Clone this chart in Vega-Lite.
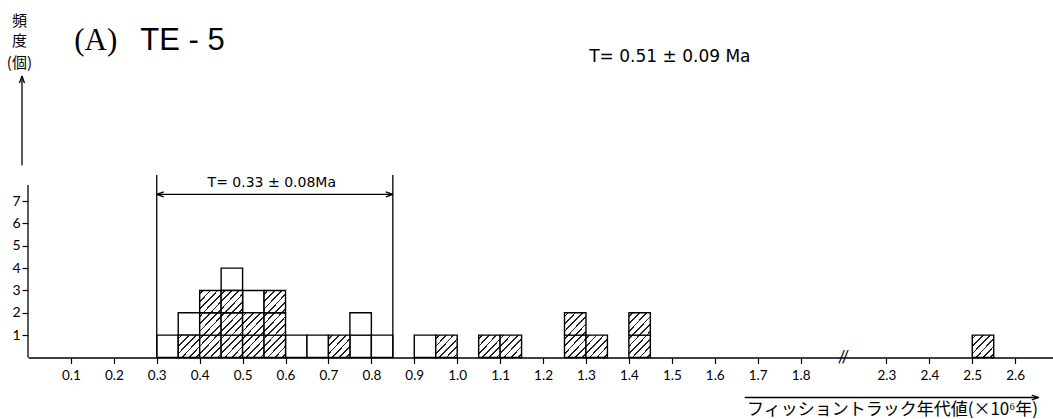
{
  "$schema": "https://vega.github.io/schema/vega-lite/v6.json",
  "width": 1025,
  "height": 357.5,
  "autosize": {"type": "none"},
  "padding": {"left": 28, "top": 0, "right": 0, "bottom": 61.5},
  "background": "white",
  "config": {"view": {"stroke": null}, "font": "Lato"},
  "datasets": {
    "boxes": [
      {"lo": 0.30, "hi": 0.35, "bottom": 0, "top": 1, "kind": "w"},
      {"lo": 0.35, "hi": 0.40, "bottom": 0, "top": 1, "kind": "h"},
      {"lo": 0.35, "hi": 0.40, "bottom": 1, "top": 2, "kind": "w"},
      {"lo": 0.40, "hi": 0.45, "bottom": 0, "top": 1, "kind": "h"},
      {"lo": 0.40, "hi": 0.45, "bottom": 1, "top": 2, "kind": "h"},
      {"lo": 0.40, "hi": 0.45, "bottom": 2, "top": 3, "kind": "h"},
      {"lo": 0.45, "hi": 0.50, "bottom": 0, "top": 1, "kind": "h"},
      {"lo": 0.45, "hi": 0.50, "bottom": 1, "top": 2, "kind": "h"},
      {"lo": 0.45, "hi": 0.50, "bottom": 2, "top": 3, "kind": "h"},
      {"lo": 0.45, "hi": 0.50, "bottom": 3, "top": 4, "kind": "w"},
      {"lo": 0.50, "hi": 0.55, "bottom": 0, "top": 1, "kind": "h"},
      {"lo": 0.50, "hi": 0.55, "bottom": 1, "top": 2, "kind": "h"},
      {"lo": 0.50, "hi": 0.55, "bottom": 2, "top": 3, "kind": "w"},
      {"lo": 0.55, "hi": 0.60, "bottom": 0, "top": 1, "kind": "h"},
      {"lo": 0.55, "hi": 0.60, "bottom": 1, "top": 2, "kind": "h"},
      {"lo": 0.55, "hi": 0.60, "bottom": 2, "top": 3, "kind": "h"},
      {"lo": 0.60, "hi": 0.65, "bottom": 0, "top": 1, "kind": "w"},
      {"lo": 0.65, "hi": 0.70, "bottom": 0, "top": 1, "kind": "w"},
      {"lo": 0.70, "hi": 0.75, "bottom": 0, "top": 1, "kind": "h"},
      {"lo": 0.75, "hi": 0.80, "bottom": 0, "top": 1, "kind": "w"},
      {"lo": 0.75, "hi": 0.80, "bottom": 1, "top": 2, "kind": "w"},
      {"lo": 0.80, "hi": 0.85, "bottom": 0, "top": 1, "kind": "w"},
      {"lo": 0.90, "hi": 0.95, "bottom": 0, "top": 1, "kind": "w"},
      {"lo": 0.95, "hi": 1.00, "bottom": 0, "top": 1, "kind": "h"},
      {"lo": 1.05, "hi": 1.10, "bottom": 0, "top": 1, "kind": "h"},
      {"lo": 1.10, "hi": 1.15, "bottom": 0, "top": 1, "kind": "h"},
      {"lo": 1.25, "hi": 1.30, "bottom": 0, "top": 1, "kind": "h"},
      {"lo": 1.25, "hi": 1.30, "bottom": 1, "top": 2, "kind": "h"},
      {"lo": 1.30, "hi": 1.35, "bottom": 0, "top": 1, "kind": "h"},
      {"lo": 1.40, "hi": 1.45, "bottom": 0, "top": 1, "kind": "h"},
      {"lo": 1.40, "hi": 1.45, "bottom": 1, "top": 2, "kind": "h"},
      {"lo": 2.50, "hi": 2.55, "bottom": 0, "top": 1, "kind": "h"}
    ],
    "lines": [
      {"x": 0, "x2": 0, "y": 0, "y2": 7.72},
      {"x": 0.3, "x2": 0.3, "y": 0, "y2": 8.17},
      {"x": 0.85, "x2": 0.85, "y": 0, "y2": 8.17},
      {"x": 0.3, "x2": 0.85, "y": 7.3, "y2": 7.3},
      {"x": -0.014, "x2": -0.014, "y": 8.6, "y2": 12.6},
      {"x": 1.67, "x2": 2.655, "y": -1.79, "y2": -1.79}
    ],
    "arrows": [
      {"x": 0.3, "y": 7.3, "dir": "left"},
      {"x": 0.85, "y": 7.3, "dir": "right"},
      {"x": 2.655, "y": -1.79, "dir": "right"},
      {"x": -0.014, "y": 12.6, "dir": "up"}
    ],
    "notes": [
      {"id": "ylab", "x": -0.02, "y": 15.05, "label": "頻"},
      {"id": "ylab", "x": -0.02, "y": 14.15, "label": "度"},
      {"id": "ylab", "x": -0.02, "y": 13.2, "label": "(個)"},
      {"id": "panel", "x": 0.158, "y": 14.16, "label": "(A)"},
      {"id": "sample", "x": 0.36, "y": 14.16, "label": "TE - 5"},
      {"id": "big", "x": 1.4955, "y": 13.44, "label": "T= 0.51 ± 0.09 Ma"},
      {"id": "small", "x": 0.568, "y": 7.82, "label": "T= 0.33 ± 0.08Ma"},
      {"id": "brk", "x": 2.05, "y": 0, "label": "//"}
    ]
  },
  "layer": [
    {
      "data": {"name": "boxes"},
      "transform": [{"filter": "datum.kind === 'w'"}],
      "mark": {"type": "rect", "fill": "white", "stroke": "black", "strokeWidth": 1.4},
      "encoding": {
        "x": {
          "field": "lo", "type": "quantitative",
          "scale": {"domain": [0, 1.8, 2.3, 2.69], "range": [0, 772.56, 858.4, 1025.8], "nice": false, "zero": false},
          "axis": {
            "values": [0.1, 0.2, 0.3, 0.4, 0.5, 0.6, 0.7, 0.8, 0.9, 1.0, 1.1, 1.2, 1.3, 1.4, 1.5, 1.6, 1.7, 1.8, 2.3, 2.4, 2.5, 2.6],
            "format": ".1f",
            "grid": false,
            "domain": true, "domainColor": "black", "domainWidth": 1.5,
            "ticks": true, "tickColor": "black", "tickSize": 6, "tickWidth": 1.2,
            "labelFontSize": 13.5, "labelColor": "black", "labelPadding": 5, "labelFont": "Lato",
            "title": "フィッショントラック年代値(×10⁶年)",
            "titleFont": "Noto Sans CJK JP", "titleFontSize": 17, "titleFontWeight": "normal", "titleColor": "black",
            "titleX": 864, "titleY": 52, "titleAlign": "center", "titleBaseline": "middle", "titleAngle": 0
          }
        },
        "x2": {"field": "hi"},
        "y": {
          "field": "bottom", "type": "quantitative",
          "scale": {"domain": [0, 16], "nice": false, "zero": false},
          "axis": {
            "values": [1, 2, 3, 4, 5, 6, 7],
            "grid": false, "domain": false,
            "ticks": true, "tickColor": "black", "tickSize": 6, "tickWidth": 1.2,
            "labelFontSize": 14, "labelColor": "black", "labelPadding": 2, "labelFont": "Lato",
            "title": null
          }
        },
        "y2": {"field": "top"}
      }
    },
    {
      "data": {"name": "boxes"},
      "transform": [{"filter": "datum.kind === 'h'"}],
      "mark": {
        "type": "rect", "stroke": "black", "strokeWidth": 1.4,
        "fill": {
          "gradient": "linear", "x1": 0, "y1": 0, "x2": 1, "y2": 1,
          "stops": [
            {"offset": 0, "color": "white"},
            {"offset": 0.063, "color": "white"}, {"offset": 0.063, "color": "#222"}, {"offset": 0.103, "color": "#222"}, {"offset": 0.103, "color": "white"},
            {"offset": 0.230, "color": "white"}, {"offset": 0.230, "color": "#222"}, {"offset": 0.270, "color": "#222"}, {"offset": 0.270, "color": "white"},
            {"offset": 0.397, "color": "white"}, {"offset": 0.397, "color": "#222"}, {"offset": 0.437, "color": "#222"}, {"offset": 0.437, "color": "white"},
            {"offset": 0.563, "color": "white"}, {"offset": 0.563, "color": "#222"}, {"offset": 0.603, "color": "#222"}, {"offset": 0.603, "color": "white"},
            {"offset": 0.730, "color": "white"}, {"offset": 0.730, "color": "#222"}, {"offset": 0.770, "color": "#222"}, {"offset": 0.770, "color": "white"},
            {"offset": 0.897, "color": "white"}, {"offset": 0.897, "color": "#222"}, {"offset": 0.937, "color": "#222"}, {"offset": 0.937, "color": "white"},
            {"offset": 1, "color": "white"}
          ]
        }
      },
      "encoding": {
        "x": {"field": "lo", "type": "quantitative"},
        "x2": {"field": "hi"},
        "y": {"field": "bottom", "type": "quantitative"},
        "y2": {"field": "top"}
      }
    },
    {
      "data": {"name": "lines"},
      "mark": {"type": "rule", "stroke": "black", "strokeWidth": 1.3},
      "encoding": {
        "x": {"field": "x", "type": "quantitative"},
        "x2": {"field": "x2"},
        "y": {"field": "y", "type": "quantitative"},
        "y2": {"field": "y2"}
      }
    },
    {
      "data": {"name": "arrows"},
      "transform": [{"filter": "datum.dir === 'left'"}],
      "mark": {"type": "point", "shape": "M0,0L2,-0.7M0,0L2,0.7", "size": 49, "filled": false, "stroke": "black", "strokeWidth": 1.3, "opacity": 1},
      "encoding": {"x": {"field": "x", "type": "quantitative"}, "y": {"field": "y", "type": "quantitative"}}
    },
    {
      "data": {"name": "arrows"},
      "transform": [{"filter": "datum.dir === 'right'"}],
      "mark": {"type": "point", "shape": "M0,0L-2,-0.7M0,0L-2,0.7", "size": 49, "filled": false, "stroke": "black", "strokeWidth": 1.3, "opacity": 1},
      "encoding": {"x": {"field": "x", "type": "quantitative"}, "y": {"field": "y", "type": "quantitative"}}
    },
    {
      "data": {"name": "arrows"},
      "transform": [{"filter": "datum.dir === 'up'"}],
      "mark": {"type": "point", "shape": "M0,0L-0.7,2M0,0L0.7,2", "size": 49, "filled": false, "stroke": "black", "strokeWidth": 1.3, "opacity": 1},
      "encoding": {"x": {"field": "x", "type": "quantitative"}, "y": {"field": "y", "type": "quantitative"}}
    },
    {
      "data": {"name": "notes"},
      "transform": [{"filter": "datum.id === 'ylab'"}],
      "mark": {"type": "text", "font": "Noto Sans CJK JP", "fontSize": 15, "color": "black", "align": "center", "baseline": "middle"},
      "encoding": {"x": {"field": "x", "type": "quantitative"}, "y": {"field": "y", "type": "quantitative"}, "text": {"field": "label"}}
    },
    {
      "data": {"name": "notes"},
      "transform": [{"filter": "datum.id === 'panel'"}],
      "mark": {"type": "text", "font": "Liberation Serif", "fontSize": 31, "color": "black", "align": "center", "baseline": "middle"},
      "encoding": {"x": {"field": "x", "type": "quantitative"}, "y": {"field": "y", "type": "quantitative"}, "text": {"field": "label"}}
    },
    {
      "data": {"name": "notes"},
      "transform": [{"filter": "datum.id === 'sample'"}],
      "mark": {"type": "text", "font": "Liberation Sans", "fontSize": 31, "color": "black", "align": "center", "baseline": "middle"},
      "encoding": {"x": {"field": "x", "type": "quantitative"}, "y": {"field": "y", "type": "quantitative"}, "text": {"field": "label"}}
    },
    {
      "data": {"name": "notes"},
      "transform": [{"filter": "datum.id === 'big'"}],
      "mark": {"type": "text", "font": "DejaVu Sans", "fontSize": 17, "color": "black", "align": "center", "baseline": "middle"},
      "encoding": {"x": {"field": "x", "type": "quantitative"}, "y": {"field": "y", "type": "quantitative"}, "text": {"field": "label"}}
    },
    {
      "data": {"name": "notes"},
      "transform": [{"filter": "datum.id === 'small'"}],
      "mark": {"type": "text", "font": "DejaVu Sans", "fontSize": 14, "color": "black", "align": "center", "baseline": "middle"},
      "encoding": {"x": {"field": "x", "type": "quantitative"}, "y": {"field": "y", "type": "quantitative"}, "text": {"field": "label"}}
    },
    {
      "data": {"name": "notes"},
      "transform": [{"filter": "datum.id === 'brk'"}],
      "mark": {"type": "text", "font": "Lato", "fontSize": 17, "color": "black", "align": "center", "baseline": "middle"},
      "encoding": {"x": {"field": "x", "type": "quantitative"}, "y": {"field": "y", "type": "quantitative"}, "text": {"field": "label"}}
    }
  ]
}
